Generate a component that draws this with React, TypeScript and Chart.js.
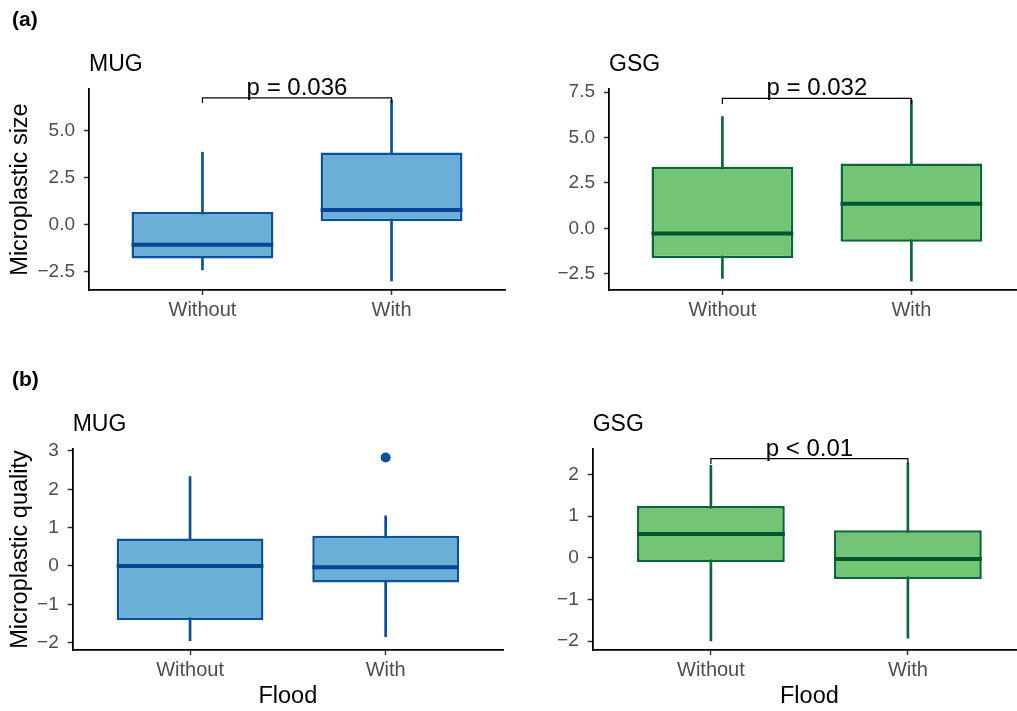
import React, { useEffect, useRef } from "react";
import { Chart, registerables } from "chart.js";

Chart.register(...registerables);

const FONT = "'Liberation Sans', Arial, Helvetica, sans-serif";

// ---------- data ----------
const categories = ["Without", "With"];

// (a) Microplastic size — MUG
const sizeMugMin = [-2.39, -2.98];
const sizeMugQ1 = [-1.79, 0.2];
const sizeMugMedian = [-1.06, 0.8];
const sizeMugQ3 = [0.69, 3.85];
const sizeMugMax = [3.87, 6.65];
const sizeMugOutlierGroup: string[] = [];
const sizeMugOutlierValue: number[] = [];

// (a) Microplastic size — GSG
const sizeGsgMin = [-2.76, -2.91];
const sizeGsgQ1 = [-1.65, -0.74];
const sizeGsgMedian = [-0.28, 1.36];
const sizeGsgQ3 = [3.4, 3.58];
const sizeGsgMax = [6.16, 7.08];
const sizeGsgOutlierGroup: string[] = [];
const sizeGsgOutlierValue: number[] = [];

// (b) Microplastic quality — MUG
const qualityMugMin = [-1.95, -1.84];
const qualityMugQ1 = [-1.41, -0.43];
const qualityMugMedian = [0.0, -0.03];
const qualityMugQ3 = [0.72, 0.79];
const qualityMugMax = [2.33, 1.31];
const qualityMugOutlierGroup = ["With"];
const qualityMugOutlierValue = [2.83];

// (b) Microplastic quality — GSG
const qualityGsgMin = [-2.0, -1.93];
const qualityGsgQ1 = [-0.1, -0.51];
const qualityGsgMedian = [0.57, -0.03];
const qualityGsgQ3 = [1.24, 0.66];
const qualityGsgMax = [2.22, 2.27];
const qualityGsgOutlierGroup: string[] = [];
const qualityGsgOutlierValue: number[] = [];

// axis ticks
const sizeMugTicks = [-2.5, 0, 2.5, 5];
const sizeGsgTicks = [-2.5, 0, 2.5, 5, 7.5];
const qualityMugTicks = [-2, -1, 0, 1, 2, 3];
const qualityGsgTicks = [-2, -1, 0, 1, 2];

// significance annotations
const sizeMugSig = { text: "p = 0.036", bar: 6.76, tip: 6.49 };
const sizeGsgSig = { text: "p = 0.032", bar: 7.16, tip: 6.85 };
const qualityGsgSig = { text: "p < 0.01", bar: 2.38, tip: 2.25 };

// ---------- styles ----------
const BLUE = { fill: "#6BAED6", edge: "#08519C", median: "#084594" };
const GREEN = { fill: "#74C476", edge: "#0A6634", median: "#00572B" };

const Y_AXIS_W = 70;
const X_AXIS_H = 45;

type Stats = { min: number[]; q1: number[]; med: number[]; q3: number[]; max: number[] };

type PanelSpec = {
  left: number; top: number; width: number; height: number;
  area: { l: number; t: number; r: number; b: number };
  xMax: number; yMin: number; yMax: number;
  ticks: number[]; decimals: number;
  stats: Stats;
  outGroup: string[]; outVal: number[];
  colors: { fill: string; edge: string; median: string };
  title: string;
  letter?: { text: string; x: number; y: number };
  yTitle?: string;
  xTitle?: string;
  sig?: { text: string; bar: number; tip: number };
};

const fmt = (v: number, d: number) => {
  const s = Math.abs(v).toFixed(d);
  return v < -1e-9 ? "\u2212" + s : s;
};

const panels: PanelSpec[] = [
  {
    left: 0, top: 0, width: 508, height: 355,
    area: { l: 89, t: 89, r: 505, b: 290 },
    xMax: 2.6, yMin: -3.46, yMax: 7.23,
    ticks: sizeMugTicks, decimals: 1,
    stats: { min: sizeMugMin, q1: sizeMugQ1, med: sizeMugMedian, q3: sizeMugQ3, max: sizeMugMax },
    outGroup: sizeMugOutlierGroup, outVal: sizeMugOutlierValue,
    colors: BLUE, title: "MUG",
    letter: { text: "(a)", x: 12, y: 25.6 },
    yTitle: "Microplastic size",
    sig: sizeMugSig,
  },
  {
    left: 508, top: 0, width: 509, height: 355,
    area: { l: 609, t: 89, r: 1017, b: 290 },
    xMax: 0.4 + (1017 - 609) / 189, yMin: -3.4, yMax: 7.68,
    ticks: sizeGsgTicks, decimals: 1,
    stats: { min: sizeGsgMin, q1: sizeGsgQ1, med: sizeGsgMedian, q3: sizeGsgQ3, max: sizeGsgMax },
    outGroup: sizeGsgOutlierGroup, outVal: sizeGsgOutlierValue,
    colors: GREEN, title: "GSG",
    sig: sizeGsgSig,
  },
  {
    left: 0, top: 355, width: 508, height: 356,
    area: { l: 72.7, t: 449, r: 505, b: 650 },
    xMax: 2.6, yMin: -2.19, yMax: 3.05,
    ticks: qualityMugTicks, decimals: 0,
    stats: { min: qualityMugMin, q1: qualityMugQ1, med: qualityMugMedian, q3: qualityMugQ3, max: qualityMugMax },
    outGroup: qualityMugOutlierGroup, outVal: qualityMugOutlierValue,
    colors: BLUE, title: "MUG",
    letter: { text: "(b)", x: 12, y: 385.6 },
    yTitle: "Microplastic quality",
    xTitle: "Flood",
  },
  {
    left: 508, top: 355, width: 509, height: 356,
    area: { l: 592.7, t: 449, r: 1017, b: 650 },
    xMax: 0.4 + (1017 - 592.7) / 197, yMin: -2.215, yMax: 2.61,
    ticks: qualityGsgTicks, decimals: 0,
    stats: { min: qualityGsgMin, q1: qualityGsgQ1, med: qualityGsgMedian, q3: qualityGsgQ3, max: qualityGsgMax },
    outGroup: qualityGsgOutlierGroup, outVal: qualityGsgOutlierValue,
    colors: GREEN, title: "GSG",
    xTitle: "Flood",
    sig: qualityGsgSig,
  },
];

function Panel({ spec }: { spec: PanelSpec }) {
  const ref = useRef<HTMLCanvasElement>(null);

  useEffect(() => {
    if (!ref.current) return;
    const s = spec;
    const xs = categories.map((_, i) => i + 1);

    const overlay = {
      id: "boxExtras",
      afterDatasetsDraw(chart: any) {
        const ctx = chart.ctx;
        const yS = chart.scales.y;
        const meta = chart.getDatasetMeta(1);
        meta.data.forEach((el: any, i: number) => {
          const { x, width } = el.getProps(["x", "width"], true);
          const y = yS.getPixelForValue(s.stats.med[i]);
          ctx.save();
          ctx.strokeStyle = s.colors.median;
          ctx.lineWidth = 4;
          ctx.beginPath();
          ctx.moveTo(x - width / 2, y);
          ctx.lineTo(x + width / 2, y);
          ctx.stroke();
          ctx.restore();
        });
      },
      afterDraw(chart: any) {
        const ctx = chart.ctx;
        const ca = chart.chartArea;
        const xS = chart.scales.x;
        const yS = chart.scales.y;
        ctx.save();
        ctx.fillStyle = "#000";
        ctx.textBaseline = "alphabetic";

        // panel title
        ctx.font = `23px ${FONT}`;
        ctx.textAlign = "left";
        ctx.fillText(s.title, ca.left, ca.top - 18.3);

        // panel letter
        if (s.letter) {
          ctx.font = `bold 21px ${FONT}`;
          ctx.fillText(s.letter.text, s.letter.x - s.left, s.letter.y - s.top);
        }

        // y title
        if (s.yTitle) {
          ctx.save();
          ctx.font = `23.5px ${FONT}`;
          ctx.textAlign = "center";
          ctx.translate(27 - s.left, (ca.top + ca.bottom) / 2);
          ctx.rotate(-Math.PI / 2);
          ctx.fillText(s.yTitle, 0, 0);
          ctx.restore();
        }

        // x title
        if (s.xTitle) {
          ctx.font = `23.5px ${FONT}`;
          ctx.textAlign = "center";
          ctx.fillText(s.xTitle, xS.getPixelForValue(1.5), ca.bottom + 53.3);
        }

        // significance bracket
        if (s.sig) {
          const x1 = xS.getPixelForValue(1);
          const x2 = xS.getPixelForValue(2);
          const yb = yS.getPixelForValue(s.sig.bar);
          const yt = yS.getPixelForValue(s.sig.tip);
          ctx.strokeStyle = "#000";
          ctx.lineWidth = 1.2;
          ctx.beginPath();
          ctx.moveTo(x1, yt);
          ctx.lineTo(x1, yb);
          ctx.lineTo(x2, yb);
          ctx.lineTo(x2, yt);
          ctx.stroke();
          ctx.font = `24px ${FONT}`;
          ctx.textAlign = "center";
          ctx.fillText(s.sig.text, (x1 + x2) / 2, yb - 3);
        }
        ctx.restore();
      },
    };

    const axisGrid = {
      display: true,
      offset: false,
      drawOnChartArea: false,
      drawTicks: true,
      tickLength: 5,
      tickColor: "#333333",
      tickWidth: 1.5,
    };
    const axisBorder = { display: true, color: "#000000", width: 1.8 };

    const chart = new Chart(ref.current, {
      type: "bar",
      data: {
        datasets: [
          {
            type: "bar",
            label: "whisker",
            data: xs.map((x, i) => ({ x, y: [s.stats.min[i], s.stats.max[i]] })),
            backgroundColor: s.colors.edge,
            borderWidth: 0,
            barThickness: 2,
            grouped: false,
            order: 3,
          } as any,
          {
            type: "bar",
            label: "box",
            data: xs.map((x, i) => ({ x, y: [s.stats.q1[i], s.stats.q3[i]] })),
            backgroundColor: s.colors.fill,
            borderColor: s.colors.edge,
            borderWidth: 2.5,
            borderSkipped: false,
            grouped: false,
            categoryPercentage: 1,
            barPercentage: 0.75,
            order: 2,
          } as any,
          {
            type: "scatter",
            label: "outlier",
            data: s.outGroup.map((g, i) => ({ x: categories.indexOf(g) + 1, y: s.outVal[i] })),
            backgroundColor: s.colors.edge,
            borderWidth: 0,
            pointRadius: 5,
            order: 1,
          } as any,
        ],
      },
      options: {
        responsive: false,
        animation: false,
        devicePixelRatio: 1,
        layout: {
          padding: {
            left: s.area.l - s.left - Y_AXIS_W,
            top: s.area.t - s.top,
            right: s.left + s.width - s.area.r,
            bottom: s.top + s.height - s.area.b - X_AXIS_H,
          },
        },
        plugins: {
          legend: { display: false },
          tooltip: { enabled: false },
          title: { display: false },
        },
        scales: {
          x: {
            type: "linear",
            offset: false,
            min: 0.4,
            max: s.xMax,
            afterBuildTicks: (sc: any) => {
              sc.ticks = xs.map((v) => ({ value: v }));
            },
            afterFit: (sc: any) => {
              sc.height = X_AXIS_H;
            },
            ticks: {
              callback: (v: any) => categories[Math.round(Number(v)) - 1] ?? "",
              color: "#4D4D4D",
              font: { family: FONT, size: 20 },
              padding: 3,
              maxRotation: 0,
              autoSkip: false,
            },
            grid: axisGrid,
            border: axisBorder,
          },
          y: {
            type: "linear",
            offset: false,
            min: s.yMin,
            max: s.yMax,
            afterBuildTicks: (sc: any) => {
              sc.ticks = s.ticks.map((v) => ({ value: v }));
            },
            afterFit: (sc: any) => {
              sc.width = Y_AXIS_W;
            },
            ticks: {
              callback: (v: any) => fmt(Number(v), s.decimals),
              color: "#4D4D4D",
              font: { family: FONT, size: 19 },
              padding: 9,
              autoSkip: false,
            },
            grid: axisGrid,
            border: axisBorder,
          },
        },
      } as any,
      plugins: [overlay],
    });

    return () => chart.destroy();
  }, [spec]);

  return (
    <canvas
      ref={ref}
      width={spec.width}
      height={spec.height}
      style={{
        position: "absolute",
        left: spec.left,
        top: spec.top,
        width: spec.width,
        height: spec.height,
        display: "block",
      }}
    />
  );
}

export default function App() {
  return (
    <div
      style={{
        position: "absolute",
        left: 0,
        top: 0,
        width: 1017,
        height: 711,
        background: "#ffffff",
        overflow: "hidden",
      }}
    >
      {panels.map((p, i) => (
        <Panel key={i} spec={p} />
      ))}
    </div>
  );
}
